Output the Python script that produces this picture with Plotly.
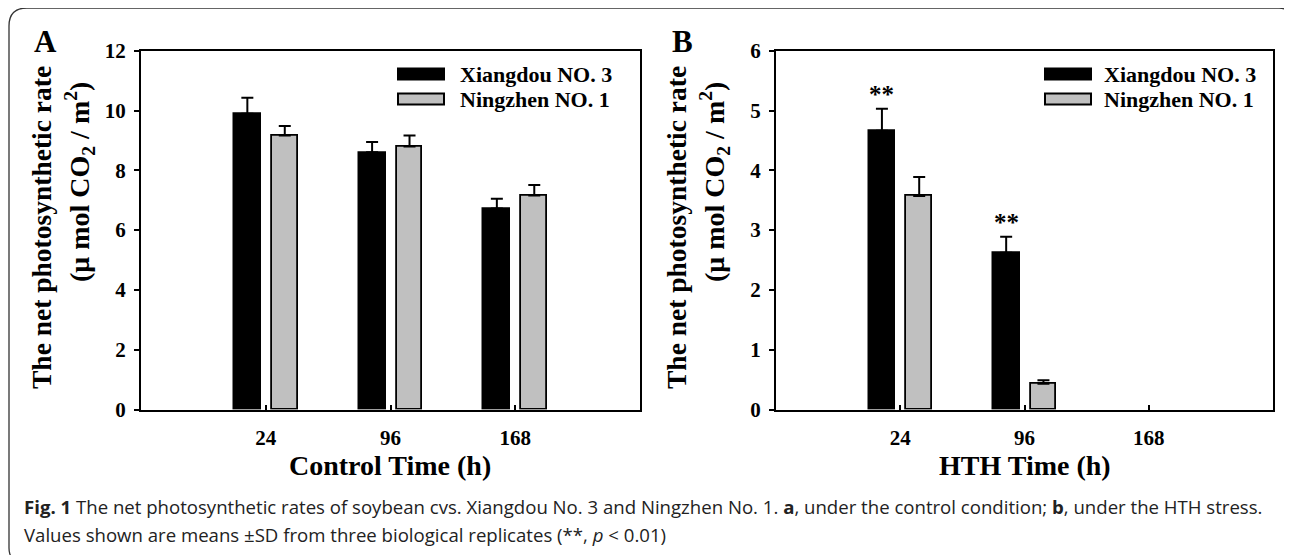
import plotly.graph_objects as go

# ---------------- data ----------------
categories = ["24", "96", "168"]
series_names = ["Xiangdou NO. 3", "Ningzhen NO. 1"]

control_xiangdou = [9.89, 8.60, 6.72]
control_xiangdou_sd = [0.54, 0.35, 0.33]
control_ningzhen = [9.16, 8.80, 7.16]
control_ningzhen_sd = [0.32, 0.36, 0.35]

hth_xiangdou = [4.66, 2.62, 0.0]
hth_xiangdou_sd = [0.37, 0.27, 0.0]
hth_ningzhen = [3.57, 0.43, 0.0]
hth_ningzhen_sd = [0.32, 0.06, 0.0]
hth_significance = ["**", "**", ""]

y_ticks_control = [0, 2, 4, 6, 8, 10, 12]
y_ticks_hth = [0, 1, 2, 3, 4, 5, 6]

x_title_control = "Control Time (h)"
x_title_hth = "HTH Time (h)"
y_title_line1 = "The net photosynthetic rate"
y_title_line2 = "(\u03bc mol CO<sub>2</sub> / m<sup>2</sup>)"
caption_line1 = ("<b>Fig. 1</b> The net photosynthetic rates of soybean cvs. Xiangdou No. 3 and "
                 "Ningzhen No. 1. <b>a</b>, under the control condition; <b>b</b>, under the HTH stress.")
caption_line2 = "Values shown are means \u00b1SD from three biological replicates (**, <i>p</i> &lt; 0.01)"

# ---------------- layout helpers ----------------
W, H = 1292, 555
OFF = 8  # page body margin in the browser
SERIF = "Liberation Serif"
CAPFONT = "Open Sans"


def px(x):
    return (x - OFF) / W


def py(y):
    return 1 - (y - OFF) / H


BLACK_OFF, BLACK_W = -0.255, 0.215
GREY_OFF, GREY_W = 0.05, 0.205
GREY = "#c0c0c0"

fig = go.Figure()


def add_panel(xa, ya, black_vals, black_sd, grey_vals, grey_sd):
    for vals, sd, name, col, lw, off, wd in [
        (black_vals, black_sd, series_names[0], "black", 1.5, BLACK_OFF, BLACK_W),
        (grey_vals, grey_sd, series_names[1], GREY, 1.8, GREY_OFF, GREY_W),
    ]:
        # zero-rate points are left undrawn, as in the original figure
        fig.add_trace(go.Bar(
            x=categories, y=[v if v > 0 else None for v in vals], name=name,
            xaxis=xa, yaxis=ya, offset=off, width=wd,
            marker=dict(color=col, line=dict(color="black", width=lw)),
            error_y=dict(type="data", symmetric=False, array=sd,
                         arrayminus=[0] * len(sd), color="black", thickness=2, width=6),
            showlegend=False))


add_panel("x", "y", control_xiangdou, control_xiangdou_sd, control_ningzhen, control_ningzhen_sd)
add_panel("x2", "y2", hth_xiangdou, hth_xiangdou_sd, hth_ningzhen, hth_ningzhen_sd)

tickfont = dict(family=SERIF, size=21, color="black", weight="bold")
ydom = [py(409.5), py(50.7)]

xcommon = dict(type="category", range=[-1, 3], showline=True, linecolor="black", linewidth=2,
               mirror=True, ticks="inside", ticklen=5, tickwidth=2, tickcolor="black",
               showgrid=False, zeroline=False, tickfont=tickfont, ticklabelstandoff=8,
               fixedrange=True, automargin=False)
ycommon = dict(showline=True, linecolor="black", linewidth=2, mirror=True, ticks="outside",
               ticklen=5, tickwidth=2, tickcolor="black", showgrid=False, zeroline=False,
               tickfont=tickfont, ticklabelstandoff=4, domain=ydom, fixedrange=True,
               automargin=False)

fig.update_layout(
    template="none",
    width=W, height=H, margin=dict(l=0, r=0, t=0, b=0, pad=0, autoexpand=False),
    paper_bgcolor="white", plot_bgcolor="white",
    bargap=0, barmode="overlay",
    xaxis=dict(domain=[px(141), px(640)], anchor="y", **xcommon),
    yaxis=dict(anchor="x", range=[0, 12], tickvals=y_ticks_control, **ycommon),
    xaxis2=dict(domain=[px(776), px(1273)], anchor="y2", **xcommon),
    yaxis2=dict(anchor="x2", range=[0, 6], tickvals=y_ticks_hth, **ycommon),
)

annotations = []
shapes = []

# significance marks
for i, mark in enumerate(hth_significance):
    if mark:
        annotations.append(dict(
            x=i + BLACK_OFF + BLACK_W / 2, y=hth_xiangdou[i] + hth_xiangdou_sd[i],
            xref="x2", yref="y2", text=mark, showarrow=False, yanchor="bottom",
            yshift=-1, font=dict(family=SERIF, size=25, color="black", weight="bold")))

# per-panel decorations (panel letters, axis titles, legends)
panels = [
    dict(left=141, letter="A", letter_x=45, xtitle=x_title_control, leg_sw=398, leg_tx=458),
    dict(left=776, letter="B", letter_x=682, xtitle=x_title_hth, leg_sw=1045, leg_tx=1102),
]
for p in panels:
    L = p["left"]
    annotations.append(dict(x=px(p["letter_x"]), y=py(41), xref="paper", yref="paper",
                            text=p["letter"], showarrow=False, xanchor="center", yanchor="middle",
                            font=dict(family=SERIF, size=31, color="black", weight="bold")))
    annotations.append(dict(x=px(L + 249), y=py(465), xref="paper", yref="paper",
                            text=p["xtitle"], showarrow=False, xanchor="center", yanchor="middle",
                            font=dict(family=SERIF, size=28, color="black", weight="bold")))
    annotations.append(dict(x=px(L - 99), y=py(228), xref="paper", yref="paper",
                            text=y_title_line1, showarrow=False, textangle=-90,
                            xanchor="center", yanchor="middle",
                            font=dict(family=SERIF, size=27.5, color="black", weight="bold")))
    annotations.append(dict(x=px(L - 62), y=py(182), xref="paper", yref="paper",
                            text=y_title_line2, showarrow=False, textangle=-90,
                            xanchor="center", yanchor="middle",
                            font=dict(family=SERIF, size=28, color="black", weight="bold")))
    # legend
    for name, col, yc in [(series_names[0], "black", 74), (series_names[1], GREY, 99)]:
        shapes.append(dict(type="rect", xref="paper", yref="paper",
                           x0=px(p["leg_sw"]), x1=px(p["leg_sw"] + 46),
                           y0=py(yc - 5.5), y1=py(yc + 5.5),
                           fillcolor=col, line=dict(color="black", width=2)))
        annotations.append(dict(x=px(p["leg_tx"]), y=py(yc), xref="paper", yref="paper",
                                text=name, showarrow=False, xanchor="left", yanchor="middle",
                                font=dict(family=SERIF, size=22, color="black", weight="bold")))

# caption
annotations.append(dict(x=px(22), y=py(506), xref="paper", yref="paper", text=caption_line1,
                        showarrow=False, xanchor="left", yanchor="middle",
                        font=dict(family=CAPFONT, size=18.6, color="#222")))
annotations.append(dict(x=px(22), y=py(534), xref="paper", yref="paper", text=caption_line2,
                        showarrow=False, xanchor="left", yanchor="middle",
                        font=dict(family=CAPFONT, size=18.6, color="#222")))

# outer rounded frame
xl, xr, yt, yb = 9, 1289, 8, 562
r1, r2, r3 = 18, 10, 14
path = (f"M {px(xl)},{py(yt + r1)} Q {px(xl)},{py(yt)} {px(xl + r1)},{py(yt)} "
        f"L {px(xr - r2)},{py(yt)} Q {px(xr)},{py(yt)} {px(xr)},{py(yt + r2)} "
        f"L {px(xr)},{py(yb - r3)} Q {px(xr)},{py(yb)} {px(xr - r3)},{py(yb)} "
        f"L {px(xl + r3)},{py(yb)} Q {px(xl)},{py(yb)} {px(xl)},{py(yb - r3)} Z")
shapes.append(dict(type="path", xref="paper", yref="paper", path=path,
                   line=dict(color="#333", width=1.3), fillcolor="rgba(0,0,0,0)"))

fig.update_layout(annotations=annotations, shapes=shapes)

fig.write_html("out.html")
